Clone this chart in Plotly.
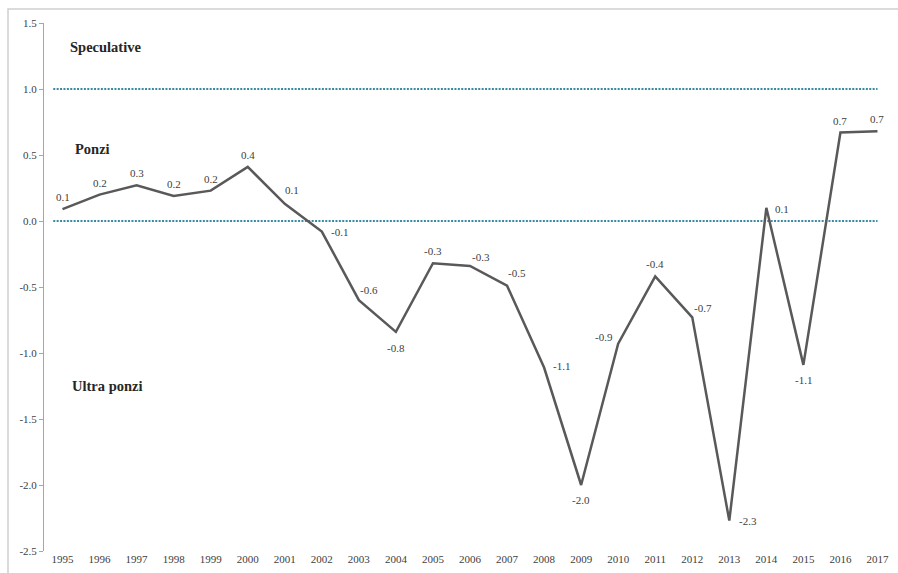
import plotly.graph_objects as go

years = list(range(1995, 2018))
values = [0.09, 0.20, 0.27, 0.19, 0.23, 0.41, 0.13, -0.08, -0.60, -0.84, -0.32, -0.34,
          -0.49, -1.11, -2.00, -0.93, -0.42, -0.73, -2.27, 0.10, -1.09, 0.67, 0.68]
value_labels = ["0.1", "0.2", "0.3", "0.2", "0.2", "0.4", "0.1", "-0.1", "-0.6", "-0.8", "-0.3", "-0.3",
                "-0.5", "-1.1", "-2.0", "-0.9", "-0.4", "-0.7", "-2.3", "0.1", "-1.1", "0.7", "0.7"]
speculative_level = [1.0, 1.0]
ponzi_level = [0.0, 0.0]
level_x = [1994.75, 2017]
ytick_vals = [1.5, 1.0, 0.5, 0.0, -0.5, -1.0, -1.5, -2.0, -2.5]
ytick_text = ["1.5", "1.0", "0.5", "0.0", "-0.5", "-1.0", "-1.5", "-2.0", "-2.5"]
zone_labels = ["Speculative", "Ponzi", "Ultra ponzi"]
zone_y = [1.32, 0.545, -1.25]
zone_x = [1995.15, 1995.28, 1995.19]

# label pixel offsets (style)
label_dx = [0, 0, 0, 0, 0, 0, 7, 18, 10, 0, 0, 11, 10, 17, 0, -14, 0, 11, 19, 16, 0, 0, 0]
label_dy = [12, 12, 12, 12, 12, 12, 14, 0, 10, -16, 12, 9, 13, 2, -15, 7, 12, 9, 0, -1, -15, 12, 12]

FONT = "Liberation Serif"
DOT = dict(color="#3A89A2", width=2.2, dash="2px,1.4px")

fig = go.Figure()
fig.add_trace(go.Scatter(x=level_x, y=speculative_level, mode="lines", line=DOT,
                         hoverinfo="skip", showlegend=False))
fig.add_trace(go.Scatter(x=level_x, y=ponzi_level, mode="lines", line=DOT,
                         hoverinfo="skip", showlegend=False))
fig.add_trace(go.Scatter(x=years, y=values, mode="lines",
                         line=dict(color="#595959", width=2.5),
                         showlegend=False))

for x, v, t, dx, dy in zip(years, values, value_labels, label_dx, label_dy):
    fig.add_annotation(x=x, y=v, text=t, showarrow=False, xanchor="center", yanchor="middle",
                       xshift=dx, yshift=dy,
                       font=dict(family=FONT, size=11, color="#404040"))

for t, yy, xx in zip(zone_labels, zone_y, zone_x):
    fig.add_annotation(x=xx, y=yy, text="<b>%s</b>" % t, showarrow=False,
                       xanchor="left", yanchor="middle",
                       font=dict(family=FONT, size=14.5, color="#262626"))

fig.update_layout(
    width=898, height=573,
    margin=dict(l=44, r=2, t=23, b=22),
    paper_bgcolor="white", plot_bgcolor="white",
    xaxis=dict(range=[1994.5, 2017.5], tickmode="array", tickvals=years,
               ticktext=[str(y) for y in years], showgrid=False, zeroline=False,
               showline=False, ticks="", tickfont=dict(family=FONT, size=11, color="#404040")),
    yaxis=dict(range=[-2.5, 1.5], tickmode="array", tickvals=ytick_vals, ticktext=ytick_text,
               showgrid=False, zeroline=False, showline=True, linecolor="#A6A6A6", linewidth=1,
               ticks="outside", ticklen=4, tickcolor="#A6A6A6",
               tickfont=dict(family=FONT, size=11, color="#404040")),
)

# chart border (light gray, top & left visible)
fig.add_shape(type="rect", xref="paper", yref="paper",
              x0=-36 / 852, x1=1.2, y0=-0.2, y1=1 + 14 / 528,
              line=dict(color="#D0D0D0", width=1.5), layer="below")

fig.write_html("out.html", config={"displayModeBar": False},
               post_script="document.body.style.margin='0';")
